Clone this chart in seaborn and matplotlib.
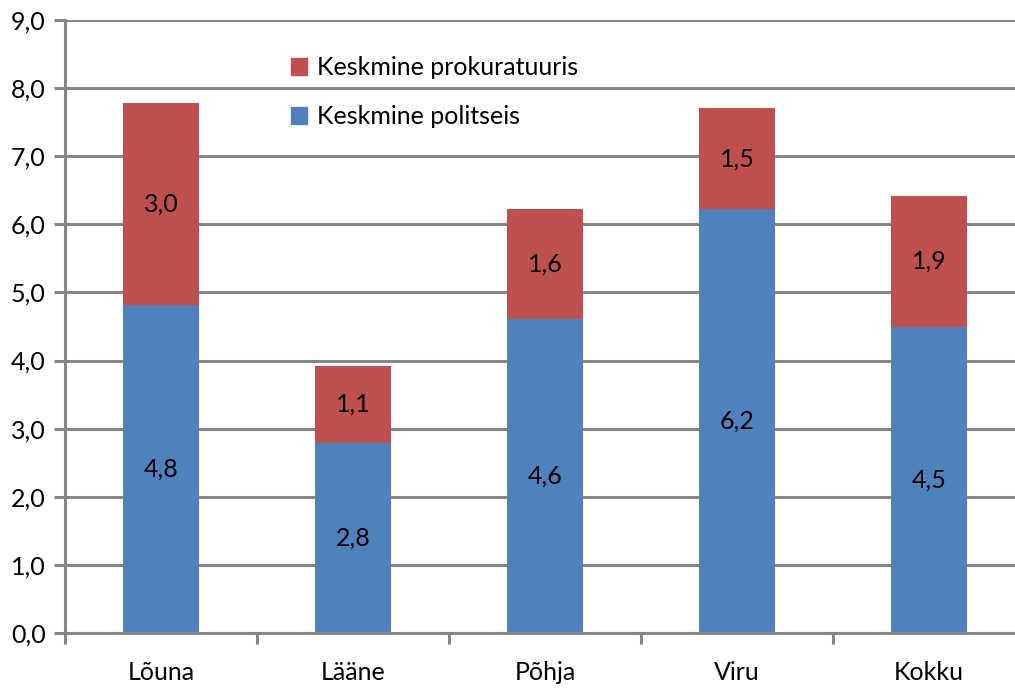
import numpy as np
import pandas as pd
import matplotlib
matplotlib.use("Agg")
import matplotlib.pyplot as plt
import seaborn as sns
from matplotlib.patches import Patch

regions = ["Lõuna", "Lääne", "Põhja", "Viru", "Kokku"]
politsei = [4.82, 2.79, 4.61, 6.22, 4.49]
prokuratuur = [2.96, 1.13, 1.62, 1.49, 1.93]

blue = "#4F81BD"
red = "#C0504D"
grey = "#868686"

sns.set_style("white")
plt.rcParams['font.family'] = ['Lato', 'DejaVu Sans']
plt.rcParams['text.color'] = 'black'
plt.rcParams['xtick.color'] = grey
plt.rcParams['ytick.color'] = grey
plt.rcParams['xtick.labelcolor'] = 'black'
plt.rcParams['ytick.labelcolor'] = 'black'

df = pd.DataFrame({"region": regions, "politsei": politsei, "prokuratuur": prokuratuur})
df["total"] = df["politsei"] + df["prokuratuur"]

fig = plt.figure(figsize=(10.15, 6.88), dpi=100)
ax = fig.add_axes([65 / 1015, 55 / 688, 960 / 1015, 613 / 688])

sns.barplot(data=df, x="region", y="total", color=red, width=0.4, saturation=1, linewidth=0, ax=ax, zorder=3)
sns.barplot(data=df, x="region", y="politsei", color=blue, width=0.4, saturation=1, linewidth=0, ax=ax, zorder=4)

def fmt(v):
    return f"{v:.1f}".replace(".", ",")

for i, row in df.iterrows():
    ax.text(i, row["politsei"] / 2, fmt(row["politsei"]), ha="center", va="center", fontsize=18, zorder=5)
    ax.text(i, row["politsei"] + row["prokuratuur"] / 2, fmt(row["prokuratuur"]), ha="center", va="center", fontsize=18, zorder=5)

ax.set_xlim(-0.5, 4.5)
ax.set_ylim(0, 9)
ax.set_yticks(np.arange(0, 10, 1))
ax.set_yticklabels([fmt(v) for v in np.arange(0, 10, 1)], fontsize=18)
ax.set_xticks(range(len(regions)))
ax.set_xticklabels(regions, fontsize=18)
ax.set_xticks(np.arange(-0.5, 5, 1), minor=True)
ax.tick_params(axis="x", which="both", bottom=True)
ax.tick_params(axis="x", which="major", length=0, pad=20)
ax.tick_params(axis="x", which="minor", length=8, width=2.2, color=grey, direction="out")
ax.tick_params(axis="y", left=True, length=8, width=2.2, color=grey, direction="out", pad=6)
ax.set_xlabel("")
ax.set_ylabel("")

ax.yaxis.grid(True, color=grey, linewidth=2.2, zorder=0)
ax.set_axisbelow(True)
for s in ["top", "right"]:
    ax.spines[s].set_visible(False)
for s in ["left", "bottom"]:
    ax.spines[s].set_color(grey)
    ax.spines[s].set_linewidth(2.2)
    ax.spines[s].set_zorder(6)

handles = [Patch(color=red, label="Keskmine prokuratuuris"), Patch(color=blue, label="Keskmine politseis")]
ax.legend(handles=handles, loc="upper left", bbox_to_anchor=(0.212, 0.978), frameon=False,
          fontsize=18, handlelength=0.65, handleheight=0.65, handletextpad=0.4, labelspacing=1.05)

fig.savefig("out.png", dpi=100)
